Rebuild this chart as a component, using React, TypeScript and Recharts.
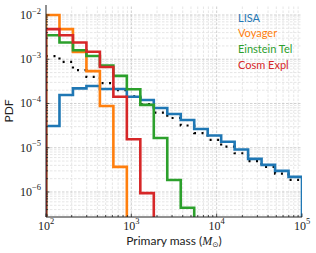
import { Legend, Line, LineChart, ReferenceLine, XAxis, YAxis } from "recharts";

// log-spaced bin edges, 19 bins between 1e2 and 1e5
const binEdges = [
  100, 143.84, 206.91, 297.64, 428.13, 615.85, 885.87, 1274.27, 1832.98, 2636.65, 3792.69,
  5455.59, 7847.6, 11288.38, 16237.77, 23357.21, 33598.18, 48329.3, 69519.28, 100000,
];

const lisa = [
  3.1e-5, 1.56e-4, 2.2e-4, 2.48e-4, 2.13e-4, 2.13e-4, 1.42e-4, 1.2e-4, 7.9e-5, 5.8e-5, 4.24e-5,
  2.65e-5, 1.89e-5, 1.37e-5, 9.1e-6, 5.6e-6, 4.1e-6, 3.0e-6, 2.2e-6,
];
const voyager = [1.0e-2, 4.8e-3, 1.46e-3, 5.4e-4, 8.8e-5, 3.7e-6];
const einsteinTel = [3.5e-3, 2.4e-3, 1.6e-3, 1.18e-3, 7.2e-4, 4.2e-4, 2.1e-4, 9.3e-5, 1.66e-5, 1.87e-6, 4.4e-7];
const cosmExpl = [4.8e-3, 3.5e-3, 2.4e-3, 1.48e-3, 6.7e-4, 1.42e-4, 1.55e-5, 9.4e-7];
const model = [
  1.18e-3, 8.7e-4, 5.7e-4, 4.0e-4, 2.9e-4, 2.0e-4, 1.45e-4, 9.75e-5, 6.2e-5, 4.7e-5, 3.18e-5,
  2.15e-5, 1.5e-5, 1.06e-5, 7.5e-6, 5.0e-6, 3.67e-6, 2.6e-6, 1.87e-6,
];

const seriesNames = ["LISA", "Voyager", "Einstein Tel", "Cosm Expl"];
const seriesColors = ["#1f77b4", "#ff7f0e", "#2ca02c", "#d62728"];

const xDomain: [number, number] = [100, 100000];
const yDomain: [number, number] = [2.72e-7, 0.01683];
const xMajor = [100, 1000, 10000, 100000];
const yMajor = [1e-6, 1e-5, 1e-4, 1e-3, 1e-2];
const minorSteps = [2, 3, 4, 5, 6, 7, 8, 9];
const xDecades = [100, 1000, 10000];
const yDecades = [1e-7, 1e-6, 1e-5, 1e-4, 1e-3, 1e-2];

const xMinor = xDecades.flatMap((d) => minorSteps.map((m) => d * m));
const yMinor = yDecades
  .flatMap((d) => minorSteps.map((m) => d * m))
  .filter((v) => v >= yDomain[0] && v <= yDomain[1]);
const xTicks = [...xMajor, ...xMinor];
const yTicks = [...yMajor, ...yMinor];

const FLOOR = 1e-8;
const INK = "#222";
const serif = "'Liberation Serif', serif";
const sans = "Lato, 'DejaVu Sans', sans-serif";

function steps(values: number[], closed: boolean) {
  const n = values.length;
  const pts = values.map((v, i) => ({ x: binEdges[i], y: v }));
  pts.push({ x: binEdges[n], y: values[n - 1] });
  if (closed) {
    pts.unshift({ x: binEdges[0], y: FLOOR });
    pts.push({ x: binEdges[n], y: FLOOR });
  }
  return pts;
}

function expLabel(v: number) {
  const e = Math.round(Math.log10(v));
  return e < 0 ? `\u2212${-e}` : `${e}`;
}

function makeTick(side: "bottom" | "top" | "left" | "right") {
  return (props: any) => {
    const { x, y, payload } = props;
    const v = payload.value;
    const major = side === "bottom" || side === "top" ? xMajor.includes(v) : yMajor.includes(v);
    const len = major ? 3.5 : 2;
    let line;
    if (side === "bottom") line = <line x1={x} x2={x} y1={y} y2={y - len} />;
    else if (side === "top") line = <line x1={x} x2={x} y1={y} y2={y + len} />;
    else if (side === "left") line = <line x1={x} x2={x + len} y1={y} y2={y} />;
    else line = <line x1={x} x2={x - len} y1={y} y2={y} />;
    return (
      <g>
        <g stroke={INK} strokeWidth={0.8}>{line}</g>
        {major && side === "bottom" && (
          <text x={x} y={y + 12.5} textAnchor="middle" fontFamily={serif} fontSize={12} fill={INK}>
            10<tspan dy={-5.5} fontSize={8.5}>{expLabel(v)}</tspan>
          </text>
        )}
        {major && side === "left" && (
          <text x={x - 5} y={y + 4} textAnchor="end" fontFamily={serif} fontSize={12} fill={INK}>
            10<tspan dy={-5.5} fontSize={8.5}>{expLabel(v)}</tspan>
          </text>
        )}
      </g>
    );
  };
}

function LegendBox() {
  return (
    <div style={{ fontFamily: sans, fontSize: 11, lineHeight: "15.7px" }}>
      {seriesNames.map((name, i) => (
        <div key={name} style={{ color: seriesColors[i], whiteSpace: "nowrap" }}>
          {name}
        </div>
      ))}
    </div>
  );
}

const seriesData = [lisa, voyager, einsteinTel, cosmExpl];

export default function App() {
  return (
    <div style={{ position: "absolute", left: 0, top: 0, background: "#fff" }}>
      <LineChart width={316} height={253} margin={{ top: 5, right: 14, bottom: 0, left: 0 }}>
        <XAxis
          xAxisId="b"
          dataKey="x"
          type="number"
          scale="log"
          domain={xDomain}
          allowDataOverflow
          ticks={xTicks}
          interval={0}
          tickSize={0}
          tickMargin={0}
          tick={makeTick("bottom")}
          tickLine={false}
          axisLine={{ stroke: INK, strokeWidth: 1 }}
          height={36}
          label={{
            content: (p: any) => {
              const vb = p.viewBox;
              return (
                <text x={vb.x + vb.width / 2} y={vb.y + 28} textAnchor="middle" fontFamily={sans} fontSize={12} fill={INK}>
                  Primary mass (<tspan fontFamily={serif} fontStyle="italic">M</tspan>
                  <tspan fontSize={7.5} dy={2} fontFamily="'DejaVu Sans', sans-serif">{"\u2299"}</tspan>
                  <tspan dy={-2}>)</tspan>
                </text>
              );
            },
          }}
        />
        <XAxis
          xAxisId="t"
          dataKey="x"
          type="number"
          scale="log"
          domain={xDomain}
          allowDataOverflow
          orientation="top"
          ticks={xTicks}
          interval={0}
          tickSize={0}
          tickMargin={0}
          tick={makeTick("top")}
          tickLine={false}
          axisLine={{ stroke: INK, strokeWidth: 1 }}
          height={0}
        />
        <YAxis
          yAxisId="l"
          type="number"
          scale="log"
          domain={yDomain}
          allowDataOverflow
          ticks={yTicks}
          interval={0}
          tickSize={0}
          tickMargin={0}
          tick={makeTick("left")}
          tickLine={false}
          axisLine={{ stroke: INK, strokeWidth: 1 }}
          width={46}
          label={{
            content: (p: any) => {
              const vb = p.viewBox;
              const cx = 8.5;
              const cy = vb.y + vb.height / 2;
              return (
                <text x={cx} y={cy} transform={`rotate(-90 ${cx} ${cy})`} textAnchor="middle" dominantBaseline="central" fontFamily={sans} fontSize={12} fill={INK}>
                  PDF
                </text>
              );
            },
          }}
        />
        <YAxis
          yAxisId="r"
          type="number"
          scale="log"
          domain={yDomain}
          allowDataOverflow
          orientation="right"
          ticks={yTicks}
          interval={0}
          tickSize={0}
          tickMargin={0}
          tick={makeTick("right")}
          tickLine={false}
          axisLine={{ stroke: INK, strokeWidth: 1 }}
          width={0}
        />

        {xMinor.map((v) => (
          <ReferenceLine key={`xm${v}`} xAxisId="b" yAxisId="l" x={v} stroke="#e0e0e0" strokeWidth={0.8} strokeDasharray="2.5 1.5" />
        ))}
        {yMinor.map((v) => (
          <ReferenceLine key={`ym${v}`} xAxisId="b" yAxisId="l" y={v} stroke="#e0e0e0" strokeWidth={0.8} strokeDasharray="2.5 1.5" />
        ))}
        {xMajor.slice(1, -1).map((v) => (
          <ReferenceLine key={`xM${v}`} xAxisId="b" yAxisId="l" x={v} stroke="#c4c4c4" strokeWidth={0.8} strokeDasharray="2.5 1.5" />
        ))}
        {yMajor.map((v) => (
          <ReferenceLine key={`yM${v}`} xAxisId="b" yAxisId="l" y={v} stroke="#c4c4c4" strokeWidth={0.8} strokeDasharray="2.5 1.5" />
        ))}

        <Line
          xAxisId="b"
          yAxisId="l"
          data={steps(model, false)}
          dataKey="y"
          type="stepAfter"
          stroke="#000"
          strokeWidth={2.2}
          strokeDasharray="2 5.5"
          dot={false}
          activeDot={false}
          isAnimationActive={false}
        />
        {seriesData.map((vals, i) => (
          <Line
            key={seriesNames[i]}
            xAxisId="b"
            yAxisId="l"
            data={steps(vals, true)}
            dataKey="y"
            name={seriesNames[i]}
            type="stepAfter"
            stroke={seriesColors[i]}
            strokeWidth={2.6}
            strokeLinejoin="miter"
            dot={false}
            activeDot={false}
            isAnimationActive={false}
          />
        ))}
        <Legend
          layout="vertical"
          align="center"
          verticalAlign="middle"
          content={() => <LegendBox />}
          wrapperStyle={{ left: 238, top: 9.5, width: "auto", height: "auto" }}
        />
      </LineChart>
    </div>
  );
}
